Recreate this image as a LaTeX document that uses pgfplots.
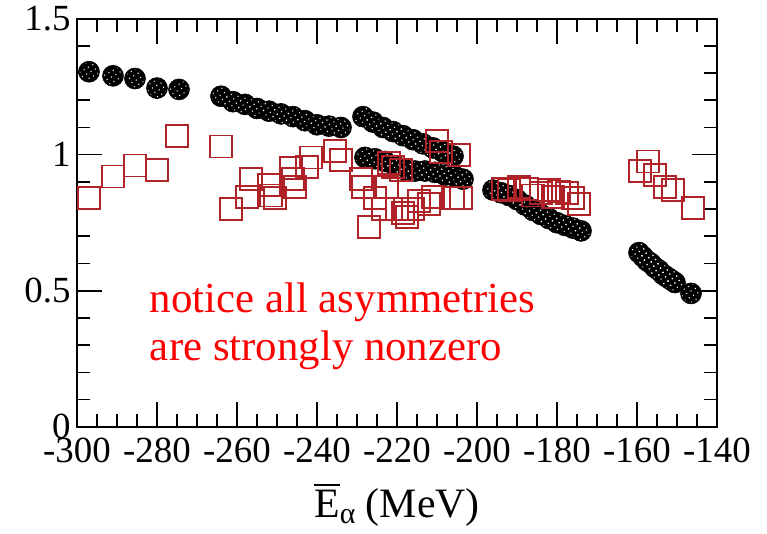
\documentclass[border=0pt]{standalone}
\usepackage{fontspec}
\setmainfont{Liberation Serif}
\usepackage{pgfplots}
\pgfplotsset{compat=1.18}
\usetikzlibrary{patterns.meta}

\definecolor{sqred}{RGB}{175,35,40}

% asymmetry of the alpha-like states (filled circles)
\pgfplotstableread{
x y
-297 1.305
-291 1.29
-285.5 1.28
-280 1.245
-274.5 1.24
-264 1.215
-261 1.195
-258 1.185
-255 1.17
-252 1.16
-249 1.15
-246 1.14
-243 1.125
-240 1.11
-237 1.105
-234 1.10
-228.5 1.14
-226 1.12
-223.5 1.10
-221 1.085
-218.5 1.07
-216 1.055
-213.5 1.04
-211 1.025
-208.5 1.01
-206 0.995
-228 0.99
-225.5 0.985
-223 0.975
-220.5 0.96
-218 0.945
-215.5 0.94
-213 0.94
-210.5 0.935
-208 0.925
-205.5 0.92
-203.5 0.91
-196 0.87
-194 0.86
-192 0.85
-190 0.835
-188 0.815
-186 0.795
-184 0.78
-182 0.765
-180 0.75
-178 0.74
-176 0.73
-174 0.72
-159.5 0.64
-158.5 0.625
-157.5 0.61
-156.5 0.60
-155.5 0.585
-154.5 0.575
-153.5 0.56
-152.5 0.55
-151.5 0.54
-150.5 0.53
-146.5 0.49
}\circdata

% second set (open squares)
\pgfplotstableread{
x y
-297 0.84
-291 0.92
-285.5 0.96
-280 0.945
-275 1.07
-264 1.03
-261.5 0.80
-257.5 0.845
-256.5 0.91
-252 0.89
-251.5 0.85
-250.5 0.84
-246.5 0.95
-246 0.91
-245.5 0.88
-242.5 0.955
-241.5 0.99
-235.5 1.015
-234 0.98
-229 0.91
-228.5 0.88
-227 0.735
-225.5 0.84
-223.5 0.80
-222.5 0.88
-222 0.97
-221 0.955
-220 0.80
-219 0.945
-218.5 0.785
-217.5 0.77
-216 0.80
-214.5 0.83
-212 0.82
-211 0.845
-210 1.05
-209 1.01
-206 0.84
-204.5 1.00
-204 0.84
-193.5 0.875
-192 0.87
-189.5 0.88
-187.5 0.875
-186 0.85
-184 0.86
-182 0.87
-181 0.845
-179.5 0.865
-177.5 0.86
-176 0.84
-174.5 0.82
-159.25 0.94
-157.25 0.975
-155.5 0.925
-153 0.88
-151 0.87
-146 0.805
}\sqdata

% E with a bar over it
\newcommand{\Ebar}{\makebox[0pt][l]{\rule[0.76em]{0.61em}{1.6bp}}E}

\begin{document}
\begin{tikzpicture}
\begin{axis}[
  scale only axis,
  width=640bp, height=408bp,
  xmin=-300, xmax=-140,
  ymin=0, ymax=1.5,
  xtick={-300,-280,...,-140},
  ytick={0,0.5,1,1.5},
  minor x tick num=3,
  minor y tick num=4,
  tick align=inside,
  major tick length=25bp,
  minor tick length=13bp,
  axis line style={line width=1.8bp},
  every tick/.style={line width=1.6bp, black},
  /pgf/number format/assume math mode=true,
  ticklabel style={font=\fontsize{37}{40}\selectfont},
  xticklabel style={yshift=-8bp},
  yticklabel style={xshift=-3bp},
  xlabel={\fontsize{42}{46}\selectfont\Ebar\raisebox{-0.3ex}{\fontsize{30}{32}\selectfont α}\ (MeV)},
  xlabel style={at={(axis description cs:0.5,0)}, anchor=base, yshift=-91bp},
  clip=false,
]
\coordinate (sw) at (rel axis cs:0,0);
\coordinate (ne) at (rel axis cs:1,1);

\addplot[only marks, mark=*, mark size=10.5bp,
  mark options={fill=black, draw=black, line width=0.6bp}] table {\circdata};
\addplot[only marks, mark=*, mark size=9.5bp,
  mark options={draw=none, pattern={Dots[radius=0.75bp, distance=5bp, angle=30]}, pattern color=white}] table {\circdata};

\addplot[only marks, mark=square, mark size=11bp,
  mark options={draw=sqred, line width=1.8bp, fill=none}] table {\sqdata};

\node[anchor=base west, text=red, inner sep=0pt, font=\fontsize{43}{48}\selectfont]
  at (axis cs:-281.8,0.42) {notice all asymmetries};
\node[anchor=base west, text=red, inner sep=0pt, font=\fontsize{43}{48}\selectfont]
  at (axis cs:-281.8,0.242) {are strongly nonzero};
\end{axis}
\path (sw) ++(-77bp,-107.3bp) coordinate (bbsw);
\path (ne) ++(50bp,18.7bp) coordinate (bbne);
\pgfresetboundingbox
\path (bbsw) rectangle (bbne);
\end{tikzpicture}
\end{document}
